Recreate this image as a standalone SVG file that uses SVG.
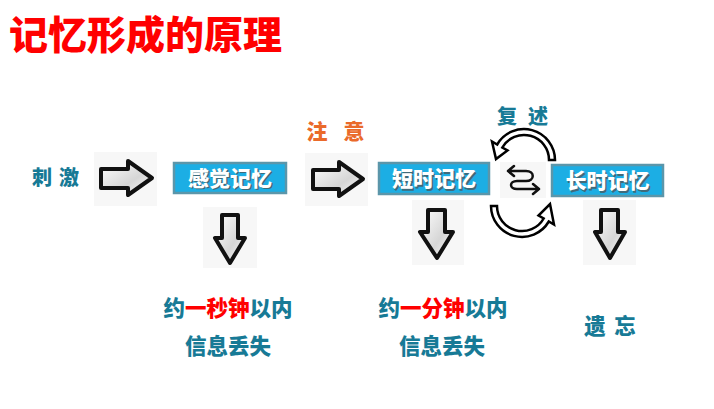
<svg xmlns="http://www.w3.org/2000/svg" width="714" height="409" viewBox="0 0 714 409">
<style>
text{font-family:"Noto Sans CJK SC",sans-serif;font-weight:900}
.title{font-size:39px;fill:#ff0000}
.teal{fill:#177a96;font-size:20px}
.orange{fill:#ea6a2a;font-size:21px}
.red{fill:#ff0000}
.box{fill:#1caee4;stroke:#5b96aa;stroke-width:2.5}
.bt{fill:#ffffff;font-size:21px;text-anchor:middle}
.bs{fill:#4a5a60;font-size:21px;text-anchor:middle;opacity:0.8}
.bg{fill:#f7f7f7}
.arr{fill:url(#g);stroke:#111;stroke-width:4;stroke-linejoin:round}
.band{fill:#fff;stroke:#000;stroke-width:2.5;stroke-linejoin:miter}
.sw{fill:none;stroke:#111;stroke-width:2.5;stroke-linecap:round;stroke-linejoin:round}
.lbl{font-size:21.5px;fill:#177a96;text-anchor:middle}
</style>
<defs>
<linearGradient id="g" x1="0" y1="0" x2="1" y2="1">
<stop offset="0" stop-color="#ffffff"/>
<stop offset="0.6" stop-color="#d6d6d6"/>
<stop offset="1" stop-color="#ffffff"/>
</linearGradient>
</defs>
<rect width="714" height="409" fill="#fff"/>
<text class="title" x="9" y="49">记忆形成的原理</text>

<g id="stimulus">
<text class="teal" x="42" y="185" text-anchor="middle">刺</text>
<text class="teal" x="69" y="185" text-anchor="middle">激</text>
</g>

<g id="attention">
<text class="orange" x="317" y="139" text-anchor="middle">注</text>
<text class="orange" x="354" y="139" text-anchor="middle">意</text>
</g>

<g id="rehearsal">
<text class="teal" x="507" y="124" text-anchor="middle">复</text>
<text class="teal" x="538" y="124" text-anchor="middle">述</text>
</g>

<g id="sensory">
<rect class="box" x="174" y="163" width="112" height="30"/>
<text class="bs" x="231.5" y="187">感觉记忆</text>
<text class="bt" x="230" y="185.5">感觉记忆</text>
</g>

<g id="short">
<rect class="box" x="379" y="163" width="110" height="31"/>
<text class="bs" x="435.5" y="187.5">短时记忆</text>
<text class="bt" x="434" y="186">短时记忆</text>
</g>

<g id="long">
<rect class="box" x="552" y="165" width="111" height="31"/>
<text class="bs" x="609" y="189.5">长时记忆</text>
<text class="bt" x="607.5" y="188">长时记忆</text>
</g>

<g id="connectors">
<rect class="bg" x="94" y="152" width="63" height="54"/>
<path class="arr" d="M101,169 L128,169 L128,161 L152,178 L128,195 L128,188 L101,188 Z"/>
<rect class="bg" x="305" y="153" width="63" height="53"/>
<path class="arr" d="M313,170 L339,170 L339,162 L363,179 L339,196 L339,189 L313,189 Z"/>
<rect class="bg" x="203" y="207" width="54" height="61"/>
<path class="arr" d="M222,215 L238,215 L238,238 L245,238 L230,263 L215,238 L222,238 Z"/>
<rect class="bg" x="412" y="200" width="52" height="65"/>
<path class="arr" d="M428,210 L445,210 L445,232 L453,232 L437,258 L420,232 L428,232 Z"/>
<rect class="bg" x="583" y="200" width="53" height="65"/>
<path class="arr" d="M601,210 L618,210 L618,232 L625,232 L610,258 L595,232 L601,232 Z"/>
<rect class="bg" x="500" y="162" width="46" height="36"/>
<path class="sw" d="M526,171 L508,171 M514,166 L508,171 L514,176 M526,171 C535,171 535,181 526,181 L517,181 C509,181 509,189 517,189 L539,189 M533,184 L539,189 L533,194"/>
<path class="band" d="M549,160 A25,25 0 0 0 502.3,147.5 L507.5,150.5 L496,159 L492,141.5 L497.2,144.5 A31,31 0 0 1 555,160 Z"/>
<path class="band" d="M497,206 A25,25 0 0 0 543.7,218.5 L538.5,215.5 L550,204 L554,224.5 L548.8,221.5 A31,31 0 0 1 491,206 Z"/>
</g>

<g id="sensory-loss">
<text class="lbl" x="228" y="316">约<tspan class="red">一秒钟</tspan>以内</text>
<text class="lbl" x="228" y="354">信息丢失</text>
</g>
<g id="short-loss">
<text class="lbl" x="443" y="316">约<tspan class="red">一分钟</tspan>以内</text>
<text class="lbl" x="442" y="354">信息丢失</text>
</g>
<g id="forget">
<text class="lbl" x="595" y="334">遗</text>
<text class="lbl" x="625" y="334">忘</text>
</g>
</svg>
